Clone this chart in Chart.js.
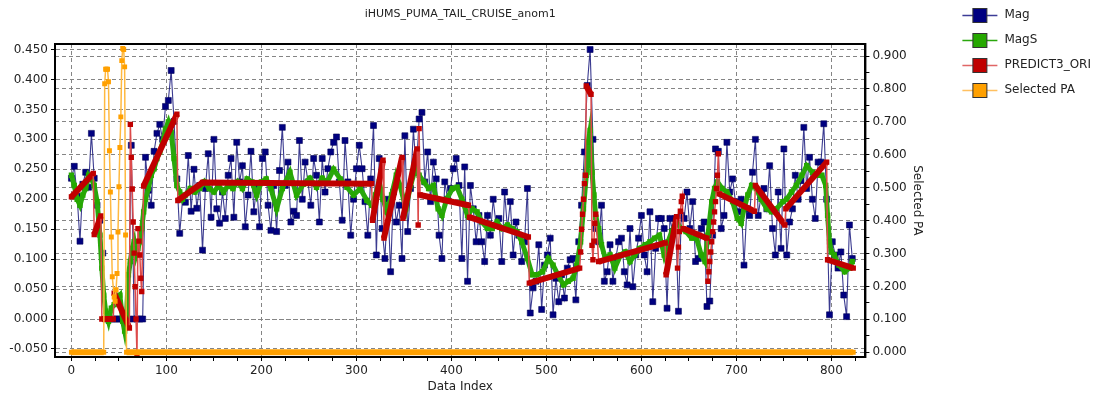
<!DOCTYPE html>
<html><head><meta charset="utf-8">
<script src="https://cdn.jsdelivr.net/npm/chart.js@4.4.1/dist/chart.umd.min.js"></script>
<style>html,body{margin:0;padding:0;background:#fff;}canvas{display:block;}</style>
</head><body>
<canvas id="c" width="1103" height="396"></canvas>
<script>
const chartTitle = 'iHUMS_PUMA_TAIL_CRUISE_anom1';
const xAxisTitle = 'Data Index';
const y2AxisTitle = 'Selected PA';
const seriesNames = ['Mag', 'MagS', 'PREDICT3_ORI', 'Selected PA'];

const xTickValues = [0, 100, 200, 300, 400, 500, 600, 700, 800];
const xTickLabels = ['0', '100', '200', '300', '400', '500', '600', '700', '800'];
const xMinorTicks = [25, 50, 75, 125, 150, 175, 225, 250, 275, 325, 350, 375, 425, 450, 475, 525, 550, 575, 625, 650, 675, 725, 750, 775, 825];
const yTickValues = [-0.05, 0, 0.05, 0.1, 0.15, 0.2, 0.25, 0.3, 0.35, 0.4, 0.45];
const yTickLabels = ['-0.050', '0.000', '0.050', '0.100', '0.150', '0.200', '0.250', '0.300', '0.350', '0.400', '0.450'];
const y2TickValues = [0, 0.1, 0.2, 0.3, 0.4, 0.5, 0.6, 0.7, 0.8, 0.9];
const y2TickLabels = ['0.000', '0.100', '0.200', '0.300', '0.400', '0.500', '0.600', '0.700', '0.800', '0.900'];
const y2MinorTicks = [0.05, 0.15, 0.25, 0.35, 0.45, 0.55, 0.65, 0.75, 0.85];

// Mag: read every 3rd data index
const MAG_STEP = 3;
const magValues = [
  0.235,0.255,0.205,0.13,0.225,0.245,0.22,0.31,0.235,0.19,
  0.165,0.11,0,0,0,0,0,0,0,0,
  0,0.29,0,0,0,0,0.27,0.215,0.19,0.28,
  0.31,0.325,0.30,0.355,0.365,0.415,0.33,0.234,0.143,0.20,
  0.195,0.273,0.18,0.25,0.185,0.223,0.115,0.218,0.276,0.17,
  0.30,0.184,0.16,0.212,0.168,0.24,0.268,0.17,0.295,0.229,
  0.256,0.154,0.207,0.28,0.179,0.223,0.154,0.268,0.279,0.19,
  0.148,0.223,0.146,0.248,0.32,0.223,0.262,0.162,0.18,0.173,
  0.298,0.20,0.262,0.229,0.19,0.268,0.24,0.162,0.268,0.212,
  0.251,0.279,0.295,0.304,0.229,0.165,0.298,0.229,0.14,0.20,
  0.251,0.29,0.251,0.196,0.14,0.234,0.323,0.107,0.268,0.151,
  0.101,0.20,0.079,0.212,0.162,0.19,0.101,0.306,0.146,0.218,
  0.317,0.245,0.334,0.345,0.229,0.279,0.196,0.262,0.234,0.14,
  0.101,0.229,0.20,0.218,0.251,0.268,0.223,0.101,0.254,0.063,
  0.223,0.184,0.129,0.173,0.129,0.096,0.173,0.14,0.20,0.157,
  0.168,0.096,0.212,0.151,0.196,0.107,0.162,0.14,0.096,0.129,
  0.218,0.01,0.052,0.063,0.124,0.016,0.09,0.107,0.135,0.007,
  0.068,0.029,0.074,0.035,0.085,0.099,0.101,0.032,0.129,0.19,
  0.279,0.39,0.45,0.30,0.151,0.129,0.19,0.063,0.079,0.124,
  0.063,0.101,0.129,0.135,0.079,0.057,0.151,0.054,0.107,0.135,
  0.173,0.107,0.079,0.179,0.029,0.118,0.168,0.168,0.151,0.018,
  0.168,0.146,0.168,0.013,0.173,0.168,0.212,0.151,0.196,0.096,
  0.101,0.151,0.162,0.021,0.03,0.14,0.284,0.28,0.151,0.173,
  0.295,0.212,0.234,0.196,0.179,0.20,0.09,0.184,0.173,0.245,
  0.30,0.173,0.207,0.218,0.184,0.256,0.151,0.107,0.212,0.118,
  0.284,0.107,0.162,0.184,0.24,0.20,0.231,0.32,0.218,0.27,
  0.20,0.168,0.262,0.262,0.326,0.20,0.007,0.129,0.107,0.085,
  0.112,0.04,0.004,0.157,0.101
];

const magsIndex = [
  0,3,6,9,12,15,18,21,24,27,
  30,32,34,36,39,42,45,48,51,54,
  56,58,60,62,64,66,68,70,72,74,
  76,78,81,84,87,90,93,96,99,102,
  105,108,111,114,117,120,125,130,135,140,
  145,150,155,160,165,170,175,180,185,190,
  195,200,205,210,216,222,230,237,244,251,
  258,264,269,276,283,290,297,304,311,316,
  320,324,328,332,337,342,346,352,357,362,
  366,371,376,381,386,390,395,401,406,411,
  417,422,427,432,438,443,448,453,459,464,
  469,474,480,485,490,496,502,507,512,518,
  523,528,532,536,539,542,544,546,548,550,
  552,555,558,562,567,572,578,583,588,593,
  598,604,609,614,619,624,628,632,637,642,
  647,653,658,663,667,670,674,677,680,685,
  690,696,701,705,708,712,716,721,726,732,
  737,742,749,753,758,763,769,774,780,785,
  790,794,796,798,800,803,808,814,819,822
];
const magsValues = [
  0.24,0.223,0.20,0.19,0.207,0.218,0.24,0.234,0.223,0.196,
  0.14,0.085,0.04,0.013,-0.004,0.018,0.024,0.035,0.04,-0.004,
  -0.02,0.007,0.074,0.096,0.118,0.129,0.107,0.118,0.129,0.151,
  0.179,0.20,0.218,0.24,0.251,0.268,0.279,0.295,0.317,0.329,
  0.312,0.268,0.223,0.212,0.20,0.207,0.218,0.212,0.218,0.229,
  0.218,0.212,0.223,0.212,0.223,0.218,0.229,0.218,0.234,0.229,
  0.207,0.229,0.234,0.218,0.184,0.218,0.245,0.207,0.225,0.235,
  0.22,0.235,0.228,0.25,0.234,0.22,0.207,0.218,0.198,0.19,
  0.207,0.229,0.2,0.179,0.207,0.24,0.223,0.184,0.223,0.251,
  0.24,0.229,0.218,0.223,0.184,0.173,0.20,0.218,0.22,0.20,
  0.173,0.184,0.179,0.162,0.151,0.151,0.162,0.151,0.157,0.151,
  0.146,0.129,0.101,0.074,0.074,0.079,0.101,0.09,0.074,0.057,
  0.063,0.068,0.09,0.129,0.184,0.24,0.295,0.315,0.245,0.207,
  0.17,0.151,0.124,0.101,0.107,0.085,0.107,0.112,0.096,0.107,
  0.118,0.124,0.129,0.135,0.14,0.107,0.129,0.146,0.162,0.151,
  0.146,0.135,0.135,0.107,0.096,0.14,0.196,0.218,0.229,0.218,
  0.212,0.196,0.168,0.16,0.184,0.207,0.223,0.218,0.20,0.184,
  0.179,0.184,0.196,0.20,0.212,0.223,0.24,0.256,0.245,0.24,
  0.24,0.223,0.173,0.129,0.112,0.107,0.09,0.079,0.085,0.096
];

const predIndex = [
  0,23, 24,31, 32,44, 45,61,
  62,63,64,65,66,67,68,69,70,71,72,73,74,
  76,111, 112,138,316, 317,328, 329,348, 349,364, 365,366, 367,418, 419,481, 482,535,
  536,537,538,539,540,541, 542,547, 548,549,550,551,552, 555,625, 626,637,
  638,639,640,641,642,643, 644,669,
  670,671,672,673,674,675,676,677,678,679,680,681,
  682,719, 720,751, 752,795, 796,823
];
const predValues = [
  0.204,0.243, 0.141,0.172, 0,0, 0.043,-0.015,
  0.325,0.27,0.217,0.162,0.11,0.054,0,-0.06,0.151,0.13,0.107,0.068,0.046,
  0.222,0.342, 0.198,0.228,0.226, 0.165,0.265, 0.135,0.27, 0.168,0.284, 0.157,0.318, 0.207,0.19, 0.17,0.137, 0.06,0.085,
  0.112,0.15,0.175,0.2,0.226,0.24, 0.389,0.375, 0.123,0.099,0.13,0.16,0.175, 0.096,0.127, 0.074,0.171,
  0.085,0.12,0.146,0.18,0.196,0.205, 0.151,0.135,
  0.063,0.079,0.096,0.112,0.129,0.146,0.162,0.179,0.196,0.218,0.24,0.276,
  0.209,0.18, 0.223,0.157, 0.184,0.262, 0.099,0.085
];

const paIndex = [0,34,35,36,37,38,39,40,41,42,43,45,46,47,48,49,50,51,52,53,54,55,56,57,58,823];
const paValues = [0,0,0.816,0.86,0.86,0.86,0.822,0.612,0.487,0.35,0.229,0.168,0.155,0.19,0.239,0.365,0.503,0.622,0.715,0.886,0.923,0.92,0.867,0.356,0,0];

const FONT = 'DejaVu Sans';
const TXT = '#222';
const GRID = '#858585';
const DASH = [4, 3];

const pairs = (xs, ys) => ys.map((v, i) => ({x: xs[i], y: v}));
const isThick = (ctx) => ctx.p1.parsed.x - ctx.p0.parsed.x > 3;

const framePlugin = {
  id: 'frame',
  afterDatasetsDraw(chart) {
    const {ctx, chartArea: a} = chart;
    ctx.save();
    ctx.strokeStyle = '#000';
    ctx.lineWidth = 2;
    ctx.strokeRect(a.left, a.top, a.right - a.left, a.bottom - a.top);
    ctx.restore();
  }
};

const LEG_PAD = 5, LEG_FS = 12, LEG_BOXH = 20;
const legendSymbols = {
  id: 'legendSymbols',
  afterDraw(chart) {
    const lg = chart.legend;
    if (!lg) return;
    const ctx = chart.ctx;
    chart.data.datasets.forEach((ds, i) => {
      const x = lg.left + LEG_PAD;
      const cy = Math.round(lg.top + LEG_PAD + i * (LEG_BOXH + LEG_PAD) + LEG_BOXH / 2) + 0.5;
      ctx.save();
      ctx.strokeStyle = ds.legendLine;
      ctx.lineWidth = 1.5;
      ctx.beginPath(); ctx.moveTo(x, cy); ctx.lineTo(x + 35, cy); ctx.stroke();
      ctx.fillStyle = ds.pointBackgroundColor;
      ctx.fillRect(x + 10.5, cy - 7, 14, 14);
      ctx.strokeStyle = '#333';
      ctx.lineWidth = 1;
      ctx.strokeRect(x + 10.5, cy - 7, 14, 14);
      ctx.restore();
    });
  }
};

const findLabel = (vals, labels, v) => {
  const i = vals.findIndex(t => Math.abs(t - v) < 1e-9);
  return i >= 0 ? labels[i] : '';
};

new Chart(document.getElementById('c'), {
  type: 'line',
  data: {
    datasets: [
      {
        label: seriesNames[0],
        data: magValues.map((v, i) => ({x: i * MAG_STEP, y: v})),
        yAxisID: 'y',
        borderColor: 'rgba(25,25,125,0.85)', borderWidth: 1.1,
        pointStyle: 'rect', pointRadius: 4.2,
        pointBackgroundColor: '#000080', pointBorderColor: '#00005a', pointBorderWidth: 0.6,
        legendLine: '#3c3c96', order: 4
      },
      {
        label: seriesNames[1],
        data: pairs(magsIndex, magsValues),
        yAxisID: 'y',
        borderColor: '#2aa70c', borderWidth: 5,
        pointStyle: 'rect', pointRadius: 3.8,
        pointBackgroundColor: '#26a800', pointBorderWidth: 0,
        legendLine: '#2aa70c', order: 3
      },
      {
        label: seriesNames[2],
        data: pairs(predIndex, predValues),
        yAxisID: 'y',
        borderColor: '#c00000', borderWidth: 1.5,
        segment: {
          borderWidth: (ctx) => (isThick(ctx) ? 6 : 1.5),
          borderColor: (ctx) => (isThick(ctx) ? '#c00000' : '#dd4a4a')
        },
        pointStyle: 'rect', pointRadius: 3.8,
        pointBackgroundColor: '#c00000', pointBorderWidth: 0,
        legendLine: '#e06666', order: 2
      },
      {
        label: seriesNames[3],
        data: pairs(paIndex, paValues),
        yAxisID: 'y2',
        borderColor: '#ffa500', borderWidth: 1.5,
        segment: {
          borderWidth: (ctx) => (isThick(ctx) ? 6 : 1.5),
          borderColor: (ctx) => (isThick(ctx) ? '#ffa000' : '#ffb940')
        },
        pointStyle: 'rect', pointRadius: 3.5,
        pointBackgroundColor: '#ffa000', pointBorderWidth: 0,
        legendLine: '#ffc060', order: 1
      }
    ]
  },
  options: {
    responsive: false,
    animation: false,
    devicePixelRatio: 1,
    layout: {padding: {left: 0, right: 2, top: 0, bottom: 0}},
    plugins: {
      title: {
        display: true, text: chartTitle, fullSize: false, color: TXT,
        font: {family: FONT, size: 11, weight: 'normal'},
        padding: {top: 8, bottom: 22.8}
      },
      legend: {
        position: 'right', align: 'start',
        labels: {
          boxWidth: 36, boxHeight: LEG_BOXH, padding: LEG_PAD, color: TXT,
          font: {family: FONT, size: LEG_FS},
          generateLabels: (chart) => chart.data.datasets.map((ds, i) => ({
            text: ds.label, fillStyle: 'rgba(0,0,0,0)', strokeStyle: 'rgba(0,0,0,0)',
            lineWidth: 0, hidden: false, datasetIndex: i, fontColor: TXT
          }))
        }
      },
      tooltip: {enabled: false}
    },
    scales: {
      x: {
        type: 'linear', position: 'bottom', min: -17.3, max: 835.8,
        afterBuildTicks: (s) => { s.ticks = xTickValues.concat(xMinorTicks).sort((a, b) => a - b).map(v => ({value: v})); },
        afterFit: (s) => { s.height = 39; },
        ticks: {
          autoSkip: false, maxRotation: 0, padding: 3, color: TXT,
          font: {family: FONT, size: 12},
          callback: (v) => findLabel(xTickValues, xTickLabels, v)
        },
        grid: {
          color: (c) => (c.tick && xTickValues.includes(c.tick.value) ? GRID : 'rgba(0,0,0,0)'),
          lineWidth: 1, tickLength: 4, tickColor: '#000', tickBorderDash: [], drawTicks: true,
          borderDash: DASH
        },
        border: {display: true, color: '#000', width: 2, dash: DASH},
        title: {display: true, text: xAxisTitle, color: TXT, font: {family: FONT, size: 12}, padding: {top: 0, bottom: 2}}
      },
      y: {
        type: 'linear', position: 'left', min: -0.0634, max: 0.4592,
        afterBuildTicks: (s) => { s.ticks = yTickValues.map(v => ({value: v})); },
        afterFit: (s) => { s.width = 55; },
        ticks: {
          autoSkip: false, padding: 3, color: TXT, font: {family: FONT, size: 12},
          callback: (v) => findLabel(yTickValues, yTickLabels, v)
        },
        grid: {color: GRID, lineWidth: 1, tickLength: 4, tickColor: '#000', tickBorderDash: [], borderDash: DASH},
        border: {display: true, color: '#000', width: 2, dash: DASH}
      },
      y2: {
        type: 'linear', position: 'right', min: -0.0146, max: 0.9365,
        afterBuildTicks: (s) => { s.ticks = y2TickValues.concat(y2MinorTicks).sort((a, b) => a - b).map(v => ({value: v})); },
        afterFit: (s) => { s.width = 92; },
        ticks: {
          autoSkip: false, padding: 3, color: TXT, font: {family: FONT, size: 12},
          callback: (v) => findLabel(y2TickValues, y2TickLabels, v)
        },
        grid: {
          color: (c) => (c.tick && findLabel(y2TickValues, y2TickLabels, c.tick.value) !== '' ? GRID : 'rgba(0,0,0,0)'),
          lineWidth: 1, tickLength: 4, tickColor: '#000', tickBorderDash: [], borderDash: DASH
        },
        border: {display: true, color: '#000', width: 2, dash: DASH},
        title: {display: true, text: y2AxisTitle, color: TXT, font: {family: FONT, size: 12}, padding: {top: 33, bottom: 0}}
      }
    }
  },
  plugins: [framePlugin, legendSymbols]
});
</script>
</body></html>
